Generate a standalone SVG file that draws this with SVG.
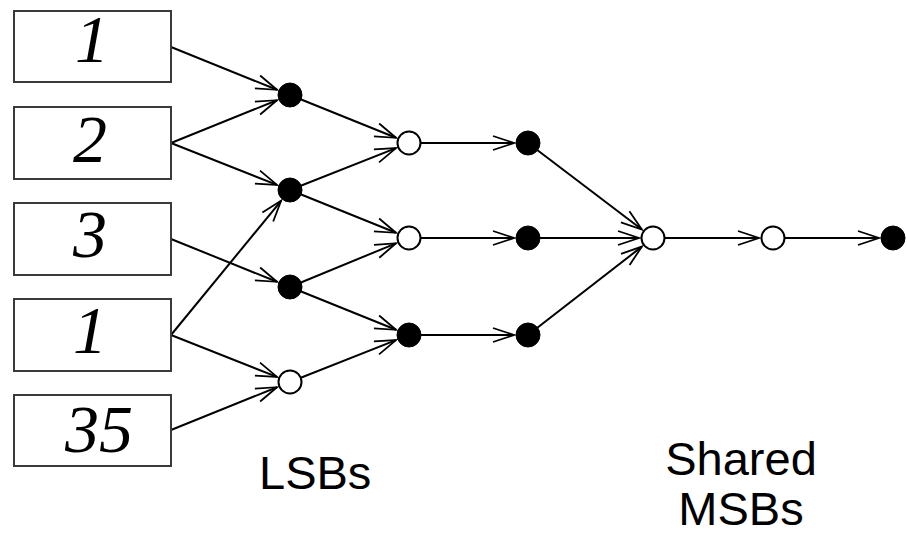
<svg xmlns="http://www.w3.org/2000/svg" width="907" height="534" viewBox="0 0 907 534">
<style>
.box{fill:#fff;stroke:#3a3a3a;stroke-width:2}
.num{font-family:"Liberation Serif","Times New Roman",serif;font-style:italic;font-size:68px;fill:#000;text-anchor:middle}
.lbl{font-family:"Liberation Sans",Arial,sans-serif;font-size:47px;fill:#000}
.edge{stroke:#000;stroke-width:2;fill:none;marker-end:url(#arr)}
.full{fill:#000;stroke:#000;stroke-width:1}
.open{fill:#fff;stroke:#000;stroke-width:2}
</style>
<defs>
<marker id="arr" markerUnits="userSpaceOnUse" markerWidth="26" markerHeight="18" refX="22" refY="9" orient="auto" overflow="visible">
<path d="M1,2 L22,9 L1,16" fill="none" stroke="#000" stroke-width="1.8"/>
</marker>
</defs>
<rect width="907" height="534" fill="#fff"/>
<g id="connectors">
<line class="edge" x1="171" y1="47" x2="277" y2="89.8"/>
<line class="edge" x1="171" y1="143" x2="277" y2="100.2"/>
<line class="edge" x1="171" y1="143" x2="277" y2="184.9"/>
<line class="edge" x1="171" y1="239" x2="277" y2="281.8"/>
<line class="edge" x1="171" y1="335" x2="281.1" y2="200.8"/>
<line class="edge" x1="171" y1="335" x2="277" y2="376.9"/>
<line class="edge" x1="171" y1="430" x2="277" y2="387.2"/>
<line class="edge" x1="290" y1="95" x2="396" y2="137.8"/>
<line class="edge" x1="290" y1="190" x2="396" y2="148.1"/>
<line class="edge" x1="290" y1="190" x2="396" y2="232.8"/>
<line class="edge" x1="290" y1="287" x2="396" y2="243.3"/>
<line class="edge" x1="290" y1="287" x2="396" y2="329.8"/>
<line class="edge" x1="290" y1="382" x2="396" y2="340.1"/>
<line class="edge" x1="409" y1="143" x2="514" y2="143"/>
<line class="edge" x1="409" y1="238" x2="514" y2="238"/>
<line class="edge" x1="409" y1="335" x2="514" y2="335"/>
<line class="edge" x1="528" y1="143" x2="641.9" y2="229.5"/>
<line class="edge" x1="528" y1="238" x2="639" y2="238"/>
<line class="edge" x1="528" y1="335" x2="641.9" y2="246.6"/>
<line class="edge" x1="653" y1="238" x2="759" y2="238"/>
<line class="edge" x1="773" y1="238" x2="879" y2="238"/>
</g>
<g id="box1"><rect class="box" x="14" y="11" width="157" height="71"/><text class="num" x="92" y="62">1</text></g>
<g id="box2"><rect class="box" x="14" y="107" width="157" height="72"/><text class="num" x="90" y="162">2</text></g>
<g id="box3"><rect class="box" x="14" y="203" width="157" height="72"/><text class="num" x="90" y="257">3</text></g>
<g id="box4"><rect class="box" x="14" y="299" width="157" height="72"/><text class="num" x="90" y="353">1</text></g>
<g id="box5"><rect class="box" x="14" y="395" width="157" height="71"/><text class="num" x="99" y="452">35</text></g>
<g id="nA"><circle class="full" cx="290" cy="95" r="12"/></g>
<g id="nB"><circle class="full" cx="290" cy="190" r="12"/></g>
<g id="nC"><circle class="full" cx="290" cy="287" r="12"/></g>
<g id="nD"><circle class="open" cx="290" cy="382" r="11.5"/></g>
<g id="nE"><circle class="open" cx="409" cy="143" r="11.5"/></g>
<g id="nF"><circle class="open" cx="409" cy="238" r="11.5"/></g>
<g id="nG"><circle class="full" cx="409" cy="335" r="12"/></g>
<g id="nH"><circle class="full" cx="528" cy="143" r="12"/></g>
<g id="nI"><circle class="full" cx="528" cy="238" r="12"/></g>
<g id="nJ"><circle class="full" cx="528" cy="335" r="12"/></g>
<g id="nK"><circle class="open" cx="653" cy="238" r="11.5"/></g>
<g id="nL"><circle class="open" cx="773" cy="238" r="11.5"/></g>
<g id="nM"><circle class="full" cx="893" cy="238" r="12"/></g>
<g id="labels">
<text class="lbl" x="259" y="489">LSBs</text>
<text class="lbl" x="741" y="475" text-anchor="middle">Shared</text>
<text class="lbl" x="741" y="525" text-anchor="middle">MSBs</text>
</g>
</svg>
